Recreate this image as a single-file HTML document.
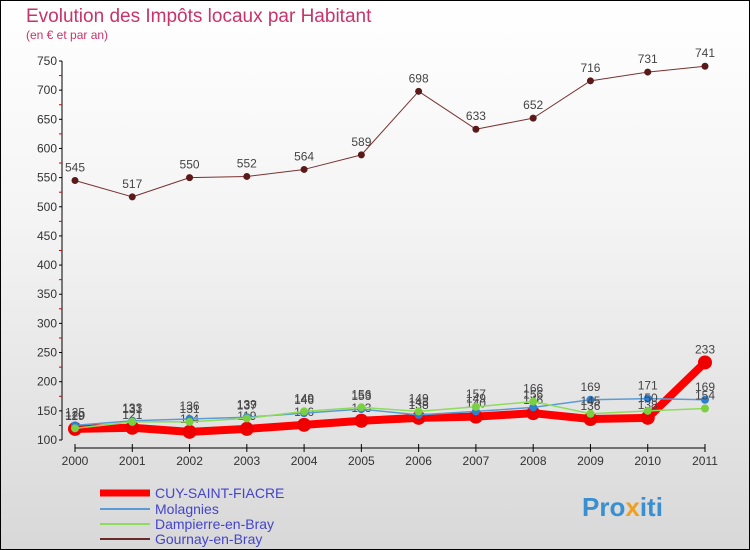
<!DOCTYPE html>
<html><head><meta charset="utf-8"><style>
body{margin:0;width:750px;height:550px;overflow:hidden;font-family:"Liberation Sans",sans-serif}
#c{position:absolute;left:0;top:0;width:748px;height:548px;border:1px solid #000;background:linear-gradient(#fff 0%,#f4f4f4 40%,#d8d8d8 100%)}
</style></head><body>
<div id="c">
<svg id="s" width="750" height="550" style="position:absolute;left:-1px;top:-1px">
<text x="26" y="22" font-size="19" fill="#c8336a">Evolution des Impôts locaux par Habitant</text>
<text x="26" y="39" font-size="12" fill="#c8336a">(en € et par an)</text>
<g id="axes"></g><g id="series"></g>
<g>
<line x1="100" y1="493" x2="150" y2="493" stroke="#f00" stroke-width="7"/>
<text x="155" y="498" font-size="14" fill="#4444cc">CUY-SAINT-FIACRE</text>
<line x1="100" y1="509" x2="150" y2="509" stroke="#5b9bd5" stroke-width="2"/>
<text x="155" y="514" font-size="14" fill="#4444cc">Molagnies</text>
<line x1="100" y1="524" x2="150" y2="524" stroke="#8edc5c" stroke-width="2"/>
<text x="155" y="529" font-size="14" fill="#4444cc">Dampierre-en-Bray</text>
<line x1="100" y1="539" x2="150" y2="539" stroke="#6b2a2a" stroke-width="2"/>
<text x="155" y="544" font-size="14" fill="#4444cc">Gournay-en-Bray</text>
</g>
<text x="582" y="516" font-size="26" font-weight="bold" fill="#3a8fd0">Pro<tspan fill="#f0a020">x</tspan>iti</text>
</svg></div>
<script>
const years=[2000,2001,2002,2003,2004,2005,2006,2007,2008,2009,2010,2011];
const yTicks=[100,150,200,250,300,350,400,450,500,550,600,650,700,750];
const cuy=[119,121,114,119,126,133,138,140,146,136,138,233];
const molagnies=[125,133,136,139,146,153,143,149,156,169,171,169];
const dampierre=[120,131,131,137,149,156,149,157,166,145,150,154];
const gournay=[545,517,550,552,564,589,698,633,652,716,731,741];
const NS='http://www.w3.org/2000/svg';
const X=i=>75+i*(630/11);
const Y=v=>440-(v-100)*(379/650);
function mk(t,a,p){const e=document.createElementNS(NS,t);for(const k in a)e.setAttribute(k,a[k]);p.appendChild(e);return e;}
const ax=document.getElementById('axes');
const ya=mk('line',{x1:62,y1:Y(750),x2:62,y2:440,stroke:'#000'},ax);


yTicks.forEach(v=>{
 const t=mk('line',{x1:59,y1:Y(v),x2:62,y2:Y(v),stroke:'#000'},ax);
 
 
 if(v<750){const m=mk('line',{x1:59,y1:Y(v+25),x2:62,y2:Y(v+25),stroke:'#d00'},ax);
 
 }
 const l=mk('text',{x:57,y:Y(v)+4,'font-size':12,fill:'#333','text-anchor':'end'},ax);l.textContent=v;
 
 
});
const xa=mk('line',{x1:75,y1:448,x2:705,y2:448,stroke:'#000'},ax);


years.forEach((yr,i)=>{
 const t=mk('line',{x1:X(i),y1:444,x2:X(i),y2:452,stroke:'#000'},ax);
 
 
 const l=mk('text',{x:X(i),y:465,'font-size':12,fill:'#333','text-anchor':'middle'},ax);l.textContent=yr;
 
 
});
const sg=document.getElementById('series');
function draw(vals,name,color,w,r,dot){
 const pl=mk('polyline',{points:vals.map((v,i)=>X(i)+','+Y(v)).join(' '),fill:'none',stroke:color,'stroke-width':w,'stroke-linejoin':'round'},sg);
 
 
 vals.forEach((v,i)=>{
  const c=mk('circle',{cx:X(i),cy:Y(v),r:r,fill:dot},sg);
  
  
  const t=mk('text',{x:X(i),y:Y(v)-9,'font-size':12,fill:'#444','text-anchor':'middle'},sg);t.textContent=v;
  
  
 });
}
draw(gournay,'gournay','#7a3030',1,3.5,'#5a1a1a');
draw(cuy,'cuy','#f00',8,7,'#e00');
draw(molagnies,'molagnies','#5b9bd5',1.5,4,'#2d7fd0');
draw(dampierre,'dampierre','#8edc5c',1.5,4,'#7ad040');
</script>
</body></html>
